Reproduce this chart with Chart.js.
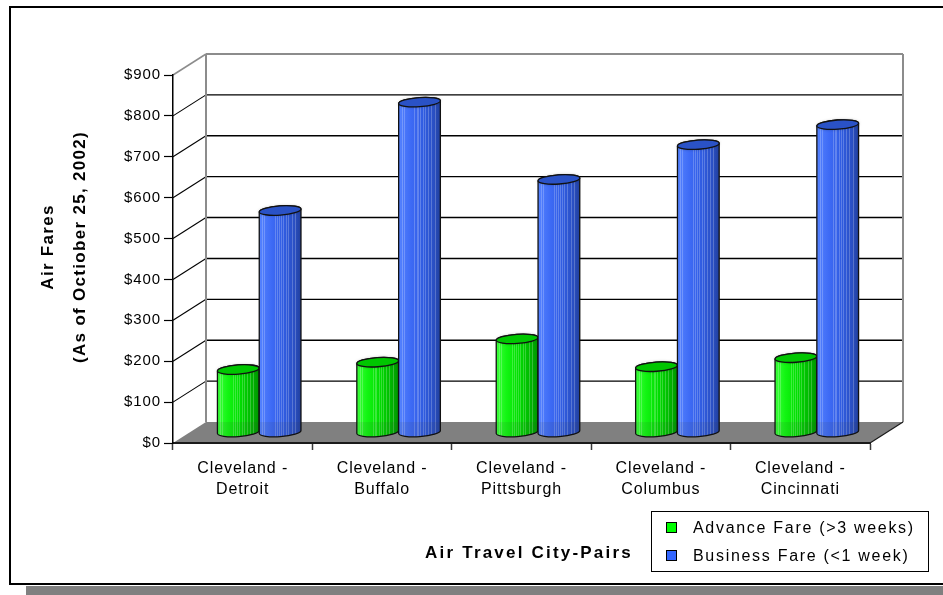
<!DOCTYPE html>
<html>
<head>
<meta charset="utf-8">
<script src="https://cdn.jsdelivr.net/npm/chart.js@4.4.1/dist/chart.umd.min.js"></script>
<style>
  html, body { margin: 0; padding: 0; background: #fff; overflow: hidden; }
  canvas { display: block; }
</style>
</head>
<body>
<canvas id="fares" width="943" height="595"></canvas>
<script>
// City pairs (two-line category labels)
const cityPairs = [
  ['Cleveland -', 'Detroit'],
  ['Cleveland -', 'Buffalo'],
  ['Cleveland -', 'Pittsburgh'],
  ['Cleveland -', 'Columbus'],
  ['Cleveland -', 'Cincinnati']
];
// Fares in dollars
const advanceFare  = [154, 172, 229, 161, 183];
const businessFare = [543, 808, 619, 704, 753];
const seriesNames  = ['Advance Fare (>3 weeks)', 'Business Fare (<1 week)'];
// Value axis ticks
const fareTicks = [0, 100, 200, 300, 400, 500, 600, 700, 800, 900];
// Axis titles
const xTitle = 'Air Travel City-Pairs';
const yTitleLines = ['Air Fares', '(As of Octiober 25, 2002)'];

const FONT = '"Liberation Sans", Arial, Helvetica, sans-serif';
// Oblique depth of the back wall relative to the front plane
const DEPTH_X = 33, DEPTH_Y = -21;

const palettes = [
  { swatch: '#00ff00', top: '#00c600',
    body: [[0, '#3dff3d'], [0.25, '#12f512'], [0.55, '#00dc00'], [0.8, '#00b900'], [1, '#009400']] },
  { swatch: '#3366ff', top: '#2a52c6',
    body: [[0, '#5583ff'], [0.3, '#3d6af5'], [0.6, '#2f5be0'], [0.85, '#2a4fc2'], [1, '#213f9c']] }
];
// light streaks across the cylinder faces (fraction of width)
const streaks = [0.07, 0.12, 0.38, 0.43, 0.47, 0.52, 0.58, 0.63, 0.7, 0.78, 0.86];

function spacing(ctx, px) { if ('letterSpacing' in ctx) ctx.letterSpacing = px + 'px'; }

function line(ctx, x1, y1, x2, y2) {
  ctx.beginPath(); ctx.moveTo(x1, y1); ctx.lineTo(x2, y2); ctx.stroke();
}

// Walls, floor and outer frame drawn underneath the axes
const stagePlugin = {
  id: 'stage',
  beforeDraw(chart) {
    const ctx = chart.ctx;
    const { left, right, top, bottom } = chart.chartArea;
    const y = chart.scales.y;
    ctx.save();
    ctx.fillStyle = '#fff';
    ctx.fillRect(0, 0, chart.width, chart.height);

    // drop shadow + frame
    ctx.fillStyle = '#808080';
    ctx.fillRect(26, 586, chart.width - 26, 10);
    ctx.strokeStyle = '#000';
    ctx.lineWidth = 2;
    ctx.strokeRect(10, 7, chart.width + 10, 577);

    // back wall gridlines and side-wall diagonals
    fareTicks.forEach((v, i) => {
      const yf = y.getPixelForValue(v);
      const yb = yf + DEPTH_Y;
      const last = i === fareTicks.length - 1;
      if (v === 0) return;
      ctx.strokeStyle = last ? '#8c8c8c' : '#000';
      ctx.lineWidth = last ? 2 : 1.4;
      line(ctx, left + DEPTH_X, yb, right + DEPTH_X, yb);
      ctx.lineWidth = last ? 1.5 : 1.1;
      line(ctx, left, yf, left + DEPTH_X, yb);
    });
    // wall edges
    ctx.strokeStyle = '#8c8c8c';
    ctx.lineWidth = 2;
    line(ctx, left + DEPTH_X, top + DEPTH_Y, left + DEPTH_X, bottom + DEPTH_Y);
    line(ctx, right + DEPTH_X, top + DEPTH_Y, right + DEPTH_X, bottom + DEPTH_Y);

    // floor
    ctx.fillStyle = '#808080';
    ctx.beginPath();
    ctx.moveTo(left, bottom);
    ctx.lineTo(right, bottom);
    ctx.lineTo(right + DEPTH_X, bottom + DEPTH_Y);
    ctx.lineTo(left + DEPTH_X, bottom + DEPTH_Y);
    ctx.closePath();
    ctx.fill();
    ctx.strokeStyle = '#1a1a1a';
    ctx.lineWidth = 1.2;
    line(ctx, right, bottom, right + DEPTH_X, bottom + DEPTH_Y);
    ctx.restore();

    // spacing for the library-drawn tick labels
    spacing(ctx, 0.9);
  }
};

function bodyPath(ctx, cx, cyTop, cyBase, rx, ry, rot) {
  ctx.beginPath();
  ctx.ellipse(cx, cyBase, rx, ry, rot, Math.PI, 0, true);
  ctx.ellipse(cx, cyTop, rx, ry, rot, 0, Math.PI, true);
  ctx.closePath();
}

function drawCylinder(ctx, bar, pal, floorBackY) {
  const rx = bar.width / 2, ry = 4.6, rot = -0.07;
  const cx = bar.x + DEPTH_X / 2;
  const cyTop = bar.y + DEPTH_Y / 2;
  const cyBase = bar.base + DEPTH_Y / 2;

  ctx.save();
  bodyPath(ctx, cx, cyTop, cyBase, rx, ry, rot);
  const g = ctx.createLinearGradient(cx - rx, 0, cx + rx, 0);
  pal.body.forEach(([o, c]) => g.addColorStop(o, c));
  ctx.fillStyle = g;
  ctx.fill();

  // streaks and lower shading, clipped to the body
  ctx.save();
  ctx.clip();
  ctx.strokeStyle = 'rgba(255,255,255,0.22)';
  ctx.lineWidth = 1;
  streaks.forEach(f => {
    const sx = Math.round(cx - rx + f * 2 * rx) + 0.5;
    line(ctx, sx, cyTop - ry - 2, sx, cyBase + ry + 2);
  });
  ctx.fillStyle = 'rgba(60,60,60,0.10)';
  ctx.fillRect(cx - rx - 2, floorBackY, 2 * rx + 4, cyBase + ry + 4 - floorBackY);
  ctx.restore();

  // outline of the body
  bodyPath(ctx, cx, cyTop, cyBase, rx, ry, rot);
  ctx.strokeStyle = '#111';
  ctx.lineWidth = 1.3;
  ctx.stroke();

  // top cap
  ctx.beginPath();
  ctx.ellipse(cx, cyTop, rx, ry, rot, 0, Math.PI * 2);
  ctx.fillStyle = pal.top;
  ctx.shadowColor = 'rgba(0,0,0,0.35)';
  ctx.shadowBlur = 3;
  ctx.fill();
  ctx.shadowColor = 'transparent';
  ctx.stroke();
  ctx.restore();
}

const cylinderPlugin = {
  id: 'cylinders',
  beforeDatasetDraw() { return false; },
  afterDatasetsDraw(chart) {
    const ctx = chart.ctx;
    const floorBackY = chart.chartArea.bottom + DEPTH_Y;
    const metas = chart.data.datasets.map((d, i) => chart.getDatasetMeta(i));
    cityPairs.forEach((c, idx) => {
      metas.forEach((meta, s) => drawCylinder(ctx, meta.data[idx], palettes[s], floorBackY));
    });
  }
};

// Titles and legend drawn on top
const annotationPlugin = {
  id: 'annotations',
  afterDraw(chart) {
    const ctx = chart.ctx;
    ctx.save();
    ctx.fillStyle = '#000';
    ctx.textBaseline = 'middle';
    ctx.textAlign = 'center';

    // category axis title
    spacing(ctx, 2.2);
    ctx.font = 'bold 17px ' + FONT;
    ctx.fillText(xTitle, 529, 553);

    // value axis title
    ctx.save();
    ctx.translate(48, 247);
    ctx.rotate(-Math.PI / 2);
    spacing(ctx, 1.3);
    ctx.fillText(yTitleLines[0], 0, 0);
    ctx.fillText(yTitleLines[1], 0, 32);
    ctx.restore();

    // legend
    ctx.strokeStyle = '#000';
    ctx.lineWidth = 1;
    ctx.strokeRect(651.5, 511.5, 277, 60);
    ctx.font = '16px ' + FONT;
    ctx.textAlign = 'left';
    spacing(ctx, 1.7);
    seriesNames.forEach((name, i) => {
      const cy = 528 + i * 28;
      ctx.fillStyle = palettes[i].swatch;
      ctx.fillRect(666, cy - 6, 11, 11);
      ctx.strokeStyle = '#000';
      ctx.strokeRect(666.5, cy - 5.5, 10, 10);
      ctx.fillStyle = '#000';
      ctx.fillText(name, 693, cy + 1);
    });
    ctx.restore();
  }
};

new Chart(document.getElementById('fares'), {
  type: 'bar',
  data: {
    labels: cityPairs,
    datasets: [
      { label: seriesNames[0], data: advanceFare, backgroundColor: palettes[0].swatch },
      { label: seriesNames[1], data: businessFare, backgroundColor: palettes[1].swatch }
    ]
  },
  options: {
    responsive: false,
    animation: false,
    devicePixelRatio: 1,
    layout: { padding: { left: 0, top: 75, right: 73, bottom: 0 } },
    datasets: { bar: { categoryPercentage: 0.6, barPercentage: 1.0 } },
    plugins: { legend: { display: false }, tooltip: { enabled: false } },
    scales: {
      x: {
        grid: { display: true, drawOnChartArea: false, drawTicks: true, tickLength: 7,
                tickWidth: 1.5, tickColor: '#3a3a3a', offset: true },
        border: { display: true, color: '#1a1a1a', width: 2 },
        ticks: { color: '#000', padding: 8, maxRotation: 0, autoSkip: false,
                 font: { family: FONT, size: 16, lineHeight: 1.3 } },
        afterFit(s) { s.height = 152; }
      },
      y: {
        min: 0, max: 900,
        afterBuildTicks(s) { s.ticks = fareTicks.map(v => ({ value: v })); },
        grid: { display: true, drawOnChartArea: false, drawTicks: true, tickLength: 9,
                tickWidth: 1.2, tickColor: '#000' },
        border: { display: true, color: '#000', width: 1.5 },
        ticks: { color: '#000', padding: 3, callback: v => '$' + v,
                 font: { family: FONT, size: 15 } },
        afterFit(s) { s.width = 173; }
      }
    }
  },
  plugins: [stagePlugin, cylinderPlugin, annotationPlugin]
});
</script>
</body>
</html>
